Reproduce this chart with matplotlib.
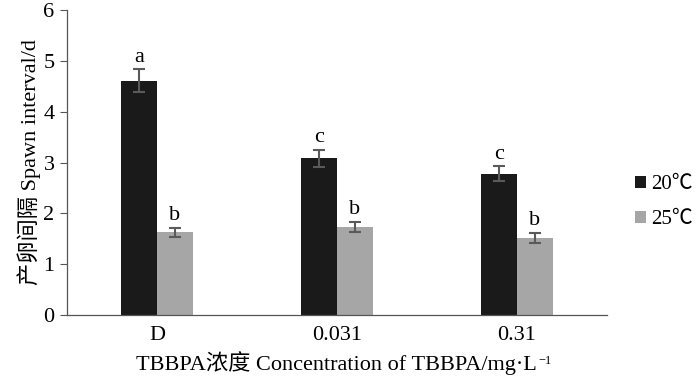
import numpy as np
import matplotlib.pyplot as plt

plt.rcParams['font.family'] = ['Liberation Serif', 'Noto Sans CJK SC', 'DejaVu Serif']

categories = ['D', '0.031', '0.31']
series_names = ['20℃', '25℃']
vals_20 = [4.61, 3.08, 2.78]
err_20 = [0.22, 0.17, 0.15]
vals_25 = [1.63, 1.73, 1.52]
err_25 = [0.09, 0.10, 0.10]
letters_20 = ['a', 'c', 'c']
letters_25 = ['b', 'b', 'b']

fig = plt.figure(figsize=(7, 3.86), dpi=100)
ax = fig.add_axes([0.0957, 0.184, 0.771, 0.79])

x = np.arange(len(categories))
w = 0.2
ekw = dict(ecolor='#5a5a5a', elinewidth=1.5, capsize=4, capthick=1.5)
ax.bar(x - w/2, vals_20, w, yerr=err_20, color='#1a1a1a', label=series_names[0], error_kw=ekw)
ax.bar(x + w/2, vals_25, w, yerr=err_25, color='#a6a6a6', label=series_names[1], error_kw=ekw)

for xi, v, e, t in zip(x - w/2, vals_20, err_20, letters_20):
    ax.text(xi, v + e + 0.05, t, ha='center', va='bottom', fontsize=16)
for xi, v, e, t in zip(x + w/2, vals_25, err_25, letters_25):
    ax.text(xi, v + e + 0.05, t, ha='center', va='bottom', fontsize=16)

ax.set_xlim(-0.5, 2.5)
ax.set_ylim(0, 6)
ax.set_yticks(range(0, 7))
ax.set_xticks(x)
ax.set_xticklabels(categories)
ax.tick_params(axis='x', length=0, pad=8, labelsize=16)
ax.tick_params(axis='y', length=5, width=0.8, color='#555555', labelsize=16, pad=4)
for s in ['top', 'right']:
    ax.spines[s].set_visible(False)
for s in ['left', 'bottom']:
    ax.spines[s].set_color('#555555')
    ax.spines[s].set_linewidth(0.9)

ax.set_ylabel('产卵间隔 Spawn interval/d', fontsize=16, labelpad=2)
xl = ax.set_xlabel('TBBPA浓度 Concentration of TBBPA/mg·L', fontsize=16, labelpad=4)

ax.legend(loc='center left', bbox_to_anchor=(1.03, 0.37), frameon=False, fontsize=15,
          handlelength=0.5, handleheight=0.5, handletextpad=0.25, labelspacing=0.75,
          borderaxespad=0.2)

# small superscript after the x label
fig.canvas.draw()
bb = xl.get_window_extent()
fig.text((bb.x1 + 1) / fig.bbox.width, (bb.y1 - 4) / fig.bbox.height, '−1',
         fontsize=9, ha='left', va='top')

fig.savefig('out.png', dpi=100)
